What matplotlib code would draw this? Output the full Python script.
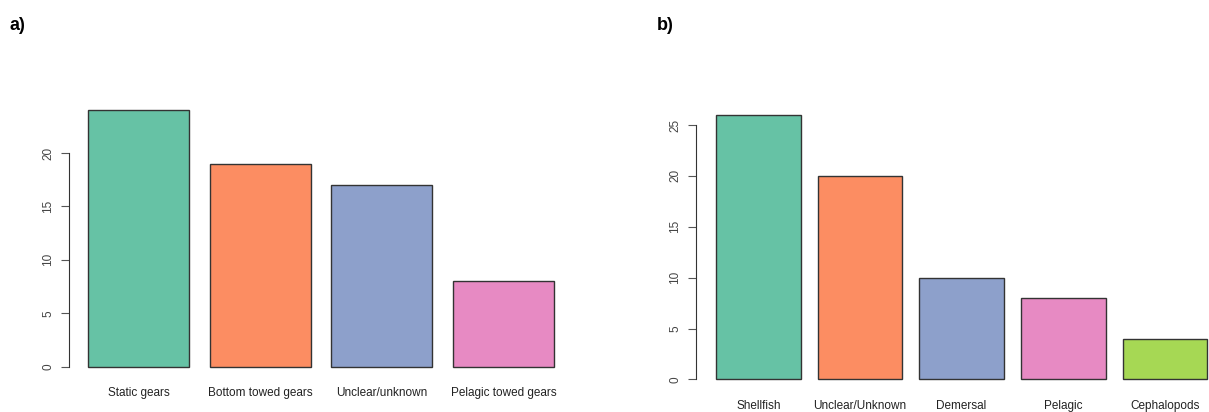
import matplotlib
matplotlib.use("Agg")
import matplotlib.pyplot as plt

plt.rcParams['font.family'] = ['Liberation Sans', 'DejaVu Sans']

# panel a: gear types
gear_labels = ["Static gears", "Bottom towed gears", "Unclear/unknown", "Pelagic towed gears"]
gear_counts = [24, 19, 17, 8]
gear_ticks = [0, 5, 10, 15, 20]

# panel b: target species groups
species_labels = ["Shellfish", "Unclear/Unknown", "Demersal", "Pelagic", "Cephalopods"]
species_counts = [26, 20, 10, 8, 4]
species_ticks = [0, 5, 10, 15, 20, 25]

set2 = ['#66C2A5', '#FC8D62', '#8DA0CB', '#E78AC3', '#A6D854']

W, H = 1209, 412
fig = plt.figure(figsize=(W / 100, H / 100), dpi=100)


def r_barplot(ax, labels, values, ticks, xmax=None):
    # R-style barplot: width 1, space 0.2
    n = len(values)
    lefts = [0.2 + 1.2 * i for i in range(n)]
    centers = [l + 0.5 for l in lefts]
    ax.bar(centers, values, width=1.0, color=set2[:n], edgecolor='#333333', linewidth=1.0)
    lo, hi = 0.2, 0.2 + 1.2 * n - 0.2
    pad = 0.04 * (hi - lo)
    ax.set_xlim(lo - pad, xmax if xmax is not None else hi + pad)
    top = max(values)
    ax.set_ylim(-0.04 * top, top * 1.04)
    for s in ['top', 'right', 'bottom']:
        ax.spines[s].set_visible(False)
    ax.spines['left'].set_bounds(ticks[0], ticks[-1])
    ax.spines['left'].set_color('#333333')
    ax.set_yticks(ticks)
    ax.set_yticklabels([str(t) for t in ticks], rotation=90, va='center',
                       fontsize=8.5, color='#444444')
    ax.tick_params(axis='y', length=6, width=0.8, pad=5, color='#555555')
    ax.set_xticks(centers)
    ax.set_xticklabels(labels, fontsize=8.5, color='#222222')
    ax.tick_params(axis='x', length=0, pad=7)


ax1 = fig.add_axes([69.4 / W, (H - 377) / H, (572.6 - 69.4) / W, (377 - 100) / H])
r_barplot(ax1, gear_labels, gear_counts, gear_ticks)

ax2 = fig.add_axes([696.3 / W, (H - 390) / H, (W - 696.3) / W, (390 - 104.3) / H])
r_barplot(ax2, species_labels, species_counts, species_ticks, xmax=-0.032 + (W - 696.3) / 84.7)

fig.text(9 / W, 1 - 26 / H, "a)", fontsize=13, fontweight='bold', va='center')
fig.text(657 / W, 1 - 26 / H, "b)", fontsize=13, fontweight='bold', va='center')

fig.savefig("out.png", dpi=100)
